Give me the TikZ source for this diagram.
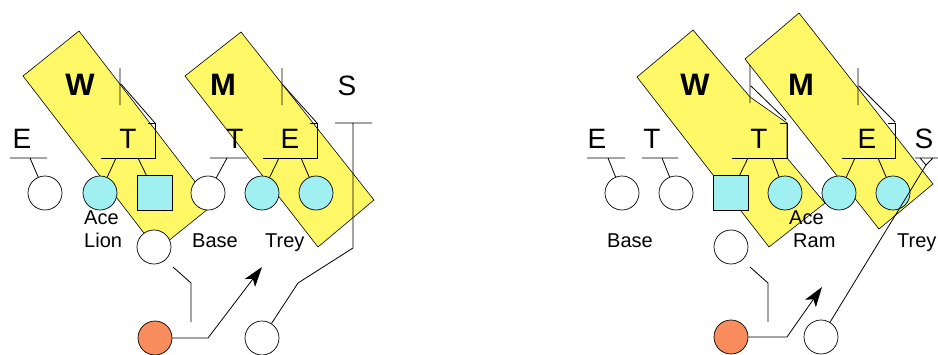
\documentclass[tikz,border=0pt]{standalone}
\usepackage{fontspec}
\setmainfont{Liberation Sans}
\usetikzlibrary{arrows.meta}
\definecolor{zoneyel}{HTML}{FFF866}
\definecolor{dlcyan}{HTML}{A0F0F2}
\definecolor{qborange}{HTML}{F88C5C}
\tikzset{
  zone/.style={fill=zoneyel,draw=black,line width=0.6pt},
  man/.style={circle,draw=black,line width=0.7pt,fill=white,minimum size=34pt,inner sep=0pt},
  dman/.style={man,fill=dlcyan},
  cman/.style={draw=black,line width=0.7pt,fill=dlcyan,minimum size=35pt,inner sep=0pt},
  qbman/.style={man,fill=qborange},
  rule/.style={line width=0.8pt},
  route/.style={line width=0.8pt,-{Stealth[length=20pt,width=13pt,inset=5pt]}},
  poslab/.style={font=\fontsize{28}{30}\selectfont,inner sep=0pt,anchor=base},
  lbk/.style={font=\fontsize{31}{33}\selectfont\bfseries,inner sep=0pt,anchor=base},
  tag/.style={font=\fontsize{20}{23}\selectfont,inner sep=0pt,align=left,anchor=base west},
}
\begin{document}
\begin{tikzpicture}[x=1pt,y=-1pt]
  \useasboundingbox (0,0) rectangle (938,354);
  % zones
  \draw[zone] (79,31)--(213,205)--(157,250)--(23,76)--cycle;
  \draw[zone] (241,32)--(374,200)--(318,247)--(185,76)--cycle;
  \draw[zone] (693,30)--(750,97)--(787,123)--(787,158)--(825,203)--(769,247)--(637,77)--cycle;
  \draw[zone] (799,13)--(933,184)--(879,229)--(745,59)--cycle;

  % left front
  \node[man](l1) at (45,193){};
  \node[dman](l2) at (100,193){};
  \node[cman](l3) at (155,193){};
  \node[man](l4) at (208,193){};
  \node[dman](l5) at (262,193){};
  \node[dman](l6) at (316,193){};
  \node[man](l7) at (154,247){};
  \node[qbman](l8) at (155,338){};
  \node[man](l9) at (262,338){};

  % right front
  \node[man](r1) at (622,193){};
  \node[man](r2) at (676,193){};
  \node[cman](r3) at (731,193){};
  \node[dman](r4) at (785,193){};
  \node[dman](r5) at (839,193){};
  \node[dman](r6) at (893,193){};
  \node[man](r7) at (731,247){};
  \node[qbman](r8) at (731,337){};
  \node[man](r9) at (821,337){};

  % left defenders
  \node[poslab](lE) at (22,148){E};
  \draw[rule] (10,158)--(47,158) (30,158)--(l1);
  \node[poslab](lT) at (128,148){T};
  \draw[rule] (101,158)--(155,158)--(155,123)--(148,123);
  \draw[rule] (116,158)--(l2) (138,158)--(l3);
  \node[poslab](lN) at (235,148){T};
  \draw[rule] (210,158)--(247,158) (227,158)--(l4);
  \node[poslab](lE2) at (290,148){E};
  \draw[rule] (263,158)--(317,158)--(317,123)--(310,123);
  \draw[rule] (279,158)--(l5) (301,158)--(l6);
  \node[lbk](lW) at (80,95){W};
  \draw[rule] (120,68)--(120,105) (121,84)--(155,123);
  \node[lbk](lM) at (223,95){M};
  \draw[rule] (282,68)--(282,105) (283,85)--(317,123);
  \node[poslab](lS) at (347,95){S};
  \draw[rule] (335,123)--(372,123) (353,123)--(353,248)--(298,283)--(l9);
  \draw[rule] (173,267)--(191,283)--(191,322);
  \draw[route] (l8.east)--(208,338)--(262,267);
  \node[tag](lAce) at (84,247){Ace\\Lion};
  \node[tag](lBase) at (192,247){Base};
  \node[tag](lTrey) at (265,247){Trey};

  % right defenders
  \node[poslab](rE) at (597,148){E};
  \draw[rule] (587,158)--(625,158) (608,158)--(r1);
  \node[poslab](rT) at (652,148){T};
  \draw[rule] (642,158)--(678,158) (662,158)--(r2);
  \node[poslab](rT2) at (759,148){T};
  \draw[rule] (732,158)--(787,158)--(787,123)--(780,123);
  \draw[rule] (748,158)--(r3) (772,158)--(r4);
  \node[poslab](rE2) at (867,148){E};
  \draw[rule] (842,158)--(895,158)--(895,123)--(888,123);
  \draw[rule] (855,158)--(r5) (878,158)--(r6);
  \node[lbk](rW) at (695,95){W};
  \draw[rule] (750,65)--(750,103) (751,86)--(786,120);
  \node[lbk](rM) at (801,95){M};
  \draw[rule] (858,68)--(858,105) (859,86)--(895,122);
  \node[poslab](rS) at (924,148){S};
  \draw[rule] (915,158)--(938,158) (920,158)--(926,165)--(933,158);
  \draw[rule] (926,165)--(r9);
  \draw[rule] (750,267)--(768,283)--(768,322);
  \draw[route] (r8.east)--(787,337)--(822,287);
  \node[tag](rBase) at (607,247){Base};
  \node[tag](rAce) at (789,247){Ace\\\hspace*{4pt}Ram};
  \node[tag](rTrey) at (897,247){Trey};
\end{tikzpicture}
\end{document}
